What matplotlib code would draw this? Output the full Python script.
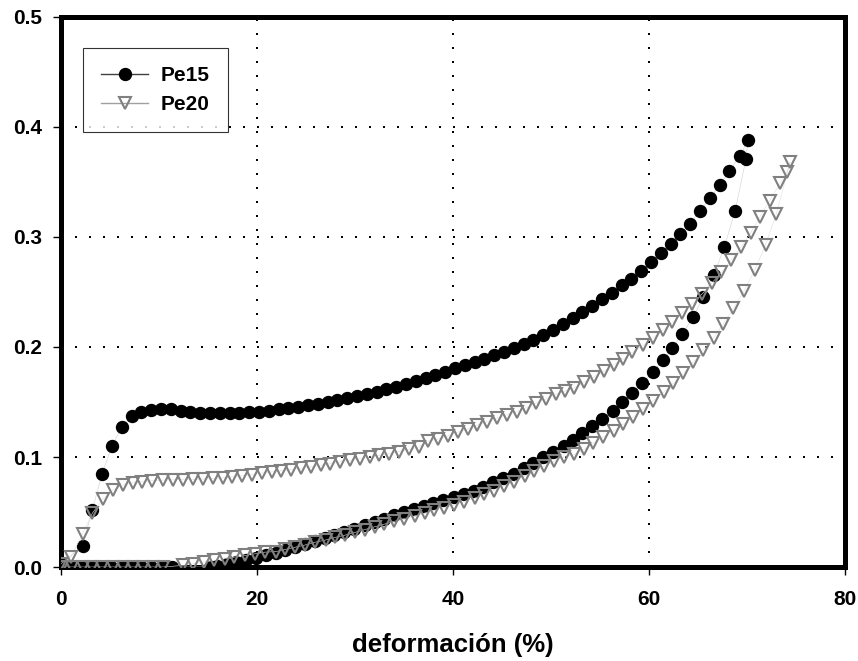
import matplotlib
matplotlib.use("Agg")
import matplotlib.pyplot as plt
from matplotlib.lines import Line2D

plt.rcParams['font.family'] = ['Liberation Sans', 'DejaVu Sans']
plt.rcParams['font.weight'] = 'bold'

# Pe15: loading branch, unloading branch, then zero-stress tail
pe15_x = [0.0, 2.2, 3.2, 4.2, 5.2, 6.2, 7.2, 8.2, 9.2, 10.2,
          11.2, 12.2, 13.2, 14.2, 15.2, 16.2, 17.2, 18.2, 19.2, 20.2,
          21.2, 22.2, 23.2, 24.2, 25.2, 26.2, 27.2, 28.2, 29.2, 30.2,
          31.2, 32.2, 33.2, 34.2, 35.2, 36.2, 37.2, 38.2, 39.2, 40.2,
          41.2, 42.2, 43.2, 44.2, 45.2, 46.2, 47.2, 48.2, 49.2, 50.2,
          51.2, 52.2, 53.2, 54.2, 55.2, 56.2, 57.2, 58.2, 59.2, 60.2,
          61.2, 62.2, 63.2, 64.2, 65.2, 66.2, 67.2, 68.2, 69.3, 70.1,
          69.9, 68.8, 67.7, 66.6, 65.5, 64.5, 63.4, 62.4, 61.4, 60.4,
          59.3, 58.3, 57.2, 56.3, 55.2, 54.2, 53.2, 52.2, 51.3, 50.2,
          49.2, 48.2, 47.2, 46.2, 45.1, 44.1, 43.1, 42.1, 41.1, 40.1,
          39.0, 38.0, 37.0, 36.0, 35.0, 34.0, 33.0, 32.0, 31.0, 29.9,
          28.9, 27.9, 26.9, 25.9, 24.9, 23.9, 22.9, 21.9, 20.9, 19.9,
          18.9, 17.9, 16.9, 15.9, 15.2,
          11.3, 10.3, 9.2, 8.2, 7.2, 6.2, 5.1, 4.1, 3.1, 2.1, 1.0, 0.0]
pe15_y = [0.003, 0.019, 0.052, 0.085, 0.110, 0.127, 0.137, 0.141, 0.143, 0.144,
          0.1435, 0.142, 0.1408, 0.1402, 0.1398, 0.1396, 0.1396, 0.1398, 0.1405, 0.1412,
          0.142, 0.1432, 0.1445, 0.1458, 0.147, 0.1485, 0.150, 0.1515, 0.1535, 0.1555,
          0.1575, 0.1595, 0.1615, 0.164, 0.1665, 0.169, 0.172, 0.1745, 0.177, 0.1805,
          0.1835, 0.1865, 0.1895, 0.1925, 0.1955, 0.1988, 0.2025, 0.2065, 0.2105, 0.2155,
          0.2205, 0.226, 0.2315, 0.2375, 0.244, 0.2495, 0.256, 0.262, 0.269, 0.277,
          0.285, 0.294, 0.303, 0.312, 0.324, 0.335, 0.347, 0.360, 0.374, 0.388,
          0.371, 0.324, 0.291, 0.265, 0.245, 0.227, 0.212, 0.199, 0.188, 0.177,
          0.167, 0.158, 0.150, 0.142, 0.135, 0.128, 0.1215, 0.1155, 0.110, 0.105,
          0.100, 0.095, 0.090, 0.085, 0.081, 0.077, 0.073, 0.0695, 0.066, 0.0635,
          0.061, 0.058, 0.0555, 0.0525, 0.050, 0.047, 0.044, 0.041, 0.038, 0.035,
          0.032, 0.0295, 0.0265, 0.0235, 0.0205, 0.018, 0.0155, 0.013, 0.0105, 0.0085,
          0.0065, 0.0045, 0.0025, 0.001, 0.0,
          0.0, 0.0, 0.0, 0.0, 0.0, 0.0, 0.0, 0.0, 0.0, 0.0, 0.0, 0.0]

# Pe20
pe20_x = [0.0, 1.0, 2.2, 3.2, 4.3, 5.3, 6.3, 7.3, 8.3, 9.3,
          10.4, 11.4, 12.4, 13.5, 14.5, 15.5, 16.5, 17.5, 18.5, 19.5,
          20.5, 21.5, 22.5, 23.5, 24.5, 25.5, 26.5, 27.5, 28.5, 29.5,
          30.5, 31.5, 32.5, 33.5, 34.5, 35.5, 36.5, 37.5, 38.5, 39.5,
          40.5, 41.5, 42.5, 43.5, 44.5, 45.5, 46.5, 47.5, 48.5, 49.5,
          50.5, 51.4, 52.4, 53.4, 54.4, 55.4, 56.4, 57.4, 58.3, 59.4,
          60.4, 61.4, 62.4, 63.4, 64.4, 65.4, 66.4, 67.4, 68.4, 69.4,
          70.4, 71.3, 72.3, 73.4, 74.1, 74.4,
          73.0, 71.9, 70.8, 69.7, 68.6, 67.6, 66.6, 65.5, 64.5, 63.5,
          62.5, 61.5, 60.4, 59.4, 58.4, 57.4, 56.4, 55.3, 54.3, 53.4,
          52.4, 51.3, 50.3, 49.3, 48.3, 47.3, 46.2, 45.2, 44.2, 43.2,
          42.2, 41.1, 40.1, 39.1, 38.1, 37.1, 36.1, 35.0, 34.0, 33.0,
          32.0, 31.0, 30.0, 29.0, 28.0, 27.0, 25.9, 24.9, 23.9, 22.9,
          21.9, 20.8, 19.8, 18.8, 17.7, 16.7, 15.6, 14.6, 13.5, 12.5,
          10.4, 9.4, 8.4, 7.3, 6.3, 5.3, 4.2, 3.2, 2.2, 1.1, 0.1]
pe20_y = [0.003, 0.009, 0.030, 0.049, 0.062, 0.070, 0.0745, 0.0767, 0.0776, 0.0785,
          0.079, 0.0793, 0.0795, 0.0797, 0.080, 0.0805, 0.081, 0.082, 0.083, 0.084,
          0.0855, 0.0865, 0.0875, 0.0885, 0.0897, 0.091, 0.0925, 0.094, 0.0955, 0.097,
          0.0985, 0.100, 0.1015, 0.103, 0.105, 0.107, 0.109, 0.1145, 0.1165, 0.119,
          0.1225, 0.1255, 0.129, 0.132, 0.1355, 0.1385, 0.141, 0.145, 0.149, 0.153,
          0.157, 0.160, 0.163, 0.168, 0.173, 0.178, 0.184, 0.189, 0.195, 0.2015,
          0.2085, 0.215, 0.2225, 0.231, 0.239, 0.248, 0.258, 0.268, 0.279, 0.291,
          0.304, 0.318, 0.333, 0.349, 0.359, 0.368,
          0.321, 0.293, 0.270, 0.251, 0.235, 0.221, 0.2085, 0.197, 0.186, 0.176,
          0.167, 0.159, 0.151, 0.1435, 0.1365, 0.130, 0.124, 0.118, 0.1125, 0.107,
          0.1025, 0.100, 0.096, 0.0915, 0.087, 0.0825, 0.0775, 0.0735, 0.0695, 0.066,
          0.0625, 0.0595, 0.0565, 0.054, 0.0515, 0.049, 0.0465, 0.044, 0.0415, 0.039,
          0.0365, 0.034, 0.0315, 0.029, 0.027, 0.0245, 0.0225, 0.020, 0.018, 0.016,
          0.014, 0.0135, 0.012, 0.0105, 0.009, 0.0075, 0.006, 0.0045, 0.003, 0.0015,
          0.0, 0.0, 0.0, 0.0, 0.0, 0.0, 0.0, 0.0, 0.0, 0.0, 0.0]

x_ticks = [0, 20, 40, 60, 80]
y_ticks = [0.0, 0.1, 0.2, 0.3, 0.4, 0.5]

fig = plt.figure(figsize=(8.58, 6.61), dpi=100)
ax = fig.add_axes([0.0711, 0.1422, 0.9137, 0.8321])

# thin connecting lines, as in the original (barely visible)
ax.plot(pe15_x, pe15_y, color='#d0d0d0', lw=0.4, marker='o', ms=8.6,
        mfc='black', mec='black', zorder=3)
ax.plot(pe20_x, pe20_y, color='#e0e0e0', lw=0.4, marker='v', ms=8.2,
        mfc='none', mec='#808080', mew=1.5, zorder=4)

ax.set_xlim(0, 80)
ax.set_ylim(0, 0.5)
ax.set_xticks(x_ticks)
ax.set_yticks(y_ticks)
ax.set_xticklabels([str(t) for t in x_ticks])
ax.set_yticklabels(['%.1f' % t for t in y_ticks])
ax.tick_params(direction='out', length=5.8, width=1, labelsize=15)
ax.tick_params(axis='x', pad=11)
ax.tick_params(axis='y', pad=8)
for lab in ax.get_xticklabels() + ax.get_yticklabels():
    lab.set_fontweight('bold')

for s in ax.spines.values():
    s.set_linewidth(3.6)
    s.set_color('black')

# dotted grid only at the inner ticks
for gx in x_ticks[1:-1]:
    ax.axvline(gx, color='black', lw=1.44, ls=(0, (1, 6)), zorder=1)
for gy in y_ticks[1:-1]:
    ax.axhline(gy, color='black', lw=1.44, ls=(0, (1, 6)), zorder=1)

ax.set_xlabel('deformación (%)', fontsize=18.5, fontweight='bold', labelpad=17)

handles = [Line2D([], [], color='#404040', lw=1, marker='o', ms=8.6,
                  mfc='black', mec='black'),
           Line2D([], [], color='#a0a0a0', lw=1, marker='v', ms=8.2,
                  mfc='none', mec='#808080', mew=1.5)]
leg = ax.legend(handles, ['Pe15', 'Pe20'], loc='upper left',
                bbox_to_anchor=(0.028, 0.944), borderaxespad=0,
                prop={'size': 15, 'weight': 'bold'}, frameon=True,
                fancybox=False, handlelength=2.25, borderpad=0.87,
                labelspacing=0.5, handletextpad=0.6)
leg.get_frame().set_edgecolor('black')
leg.get_frame().set_linewidth(0.8)

fig.savefig('out.png', dpi=100)
